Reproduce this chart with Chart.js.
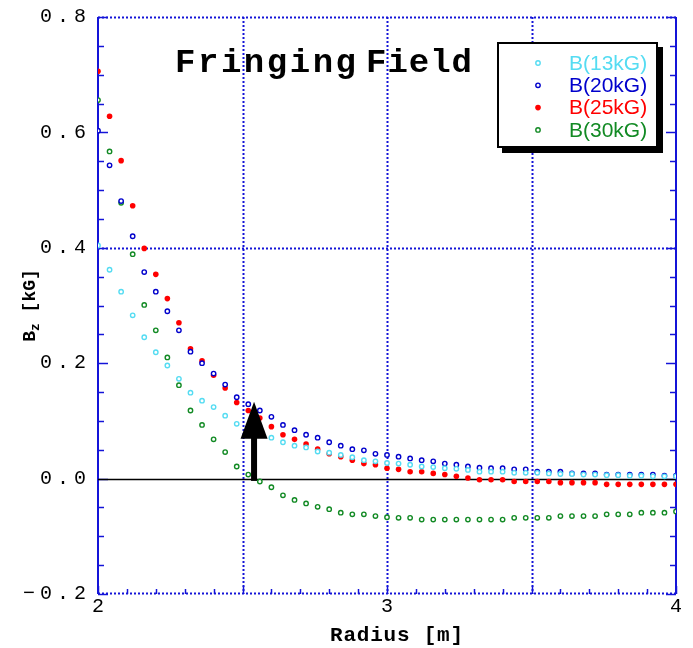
<!DOCTYPE html>
<html><head><meta charset="utf-8">
<script src="https://cdn.jsdelivr.net/npm/chart.js@4/dist/chart.umd.min.js"></script>
<style>html,body{margin:0;padding:0;background:#fff;} canvas{display:block;}</style>
</head><body>
<canvas id="c" width="693" height="648"></canvas>
<script>
// ---- data ----
const radius = [2.00,2.04,2.08,2.12,2.16,2.20,2.24,2.28,2.32,2.36,2.40,2.44,2.48,2.52,2.56,2.60,2.64,2.68,2.72,2.76,2.80,2.84,2.88,2.92,2.96,3.00,3.04,3.08,3.12,3.16,3.20,3.24,3.28,3.32,3.36,3.40,3.44,3.48,3.52,3.56,3.60,3.64,3.68,3.72,3.76,3.80,3.84,3.88,3.92,3.96,4.00];
const b13 = [0.404,0.362,0.324,0.283,0.245,0.219,0.196,0.173,0.149,0.135,0.124,0.109,0.095,0.087,0.079,0.071,0.063,0.057,0.054,0.047,0.045,0.041,0.037,0.032,0.030,0.027,0.026,0.024,0.021,0.020,0.018,0.017,0.015,0.012,0.012,0.012,0.010,0.010,0.010,0.009,0.008,0.008,0.007,0.007,0.006,0.006,0.005,0.005,0.004,0.004,0.004];
const b20 = [0.603,0.543,0.481,0.420,0.358,0.324,0.290,0.257,0.220,0.200,0.182,0.163,0.141,0.129,0.118,0.107,0.093,0.084,0.076,0.071,0.063,0.057,0.051,0.049,0.043,0.041,0.038,0.035,0.032,0.030,0.026,0.024,0.021,0.019,0.018,0.018,0.016,0.016,0.012,0.012,0.012,0.009,0.009,0.009,0.007,0.007,0.007,0.007,0.007,0.005,0.005];
const b25 = [0.706,0.628,0.551,0.473,0.399,0.354,0.312,0.270,0.225,0.204,0.179,0.157,0.132,0.118,0.105,0.090,0.076,0.068,0.060,0.051,0.043,0.038,0.032,0.026,0.024,0.018,0.016,0.012,0.012,0.009,0.007,0.004,0.001,-0.002,-0.002,-0.002,-0.005,-0.005,-0.005,-0.005,-0.007,-0.007,-0.007,-0.007,-0.010,-0.010,-0.010,-0.010,-0.010,-0.010,-0.010];
const b30 = [0.656,0.567,0.478,0.389,0.301,0.257,0.210,0.162,0.118,0.093,0.068,0.046,0.021,0.007,-0.005,-0.015,-0.029,-0.037,-0.043,-0.049,-0.053,-0.059,-0.062,-0.062,-0.065,-0.067,-0.068,-0.068,-0.071,-0.071,-0.071,-0.071,-0.071,-0.071,-0.071,-0.071,-0.068,-0.068,-0.068,-0.068,-0.065,-0.065,-0.065,-0.065,-0.062,-0.062,-0.062,-0.059,-0.059,-0.059,-0.057];
const seriesNames = ['B(13kG)','B(20kG)','B(25kG)','B(30kG)'];
const xTicks = [2, 3, 4];
const xTickLabels = ['2', '3', '4'];
const yTicks = [0.8, 0.6, 0.4, 0.2, 0.0, -0.2];
const yTickLabels = ['0.8', '0.6', '0.4', '0.2', '0.0', '\u22120.2'];
const xGridValues = [2.5, 3.0, 3.5];
const yGridValues = [0.4];
const arrowX = 2.54, arrowFrom = -0.004, arrowTo = 0.133;
const chartTitle = ['Fringing', 'Field'];
const xTitle = 'Radius [m]';

// ---- styles ----
const colCyan = '#55dcf2', colBlue = '#0000cc', colRed = '#ff0000', colGreen = '#128a24';
const axisBlue = '#1414d8';
const mono = '"Liberation Mono", "DejaVu Sans Mono", monospace';
const sans = '"Liberation Sans", Arial, sans-serif';

function pts(arr) { return radius.map((r, i) => ({x: r, y: arr[i]})); }
function openSet(label, arr, col) {
  return {label, data: pts(arr), borderColor: col, backgroundColor: '#ffffff',
    pointRadius: 2.2, pointBorderWidth: 1.4, pointHoverRadius: 2.2, showLine: false};
}

// draw text spread to a given width; x is the left edge
function fitText(ctx, text, x, y, width) {
  ctx.letterSpacing = '0px';
  const w = ctx.measureText(text).width;
  const sp = text.length > 1 ? (width - w) / (text.length - 1) : 0;
  ctx.letterSpacing = sp.toFixed(2) + 'px';
  ctx.textAlign = 'left';
  ctx.fillText(text, x, y);
  ctx.letterSpacing = '0px';
}

const decor = {
  id: 'decor',
  beforeDatasetsDraw(chart) {
    const {ctx, chartArea: a, scales: {x, y}} = chart;
    ctx.save();
    // grid
    ctx.strokeStyle = axisBlue; ctx.lineWidth = 2; ctx.setLineDash([2, 2]);
    xGridValues.forEach(v => { const px = Math.round(x.getPixelForValue(v)) + 0.5;
      ctx.beginPath(); ctx.moveTo(px, a.top); ctx.lineTo(px, a.bottom); ctx.stroke(); });
    yGridValues.forEach(v => { const py = Math.round(y.getPixelForValue(v)) + 0.5;
      ctx.beginPath(); ctx.moveTo(a.left, py); ctx.lineTo(a.right, py); ctx.stroke(); });
    // top & bottom dotted frame
    ctx.beginPath(); ctx.moveTo(a.left, a.top + 0.5); ctx.lineTo(a.right, a.top + 0.5); ctx.stroke();
    ctx.beginPath(); ctx.moveTo(a.left, a.bottom - 0.5); ctx.lineTo(a.right, a.bottom - 0.5); ctx.stroke();
    ctx.setLineDash([]);
    // left & right solid frame
    ctx.beginPath(); ctx.moveTo(a.left, a.top); ctx.lineTo(a.left, a.bottom); ctx.stroke();
    ctx.beginPath(); ctx.moveTo(a.right, a.top); ctx.lineTo(a.right, a.bottom); ctx.stroke();
    // ticks
    ctx.lineWidth = 1.5;
    for (let k = 0; k <= 20; k++) {
      const v = -0.2 + k * 0.05; const py = Math.round(y.getPixelForValue(v)) + 0.5;
      const len = (k % 4 === 0) ? 10 : 6;
      ctx.beginPath(); ctx.moveTo(a.left, py); ctx.lineTo(a.left + len, py); ctx.stroke();
      ctx.beginPath(); ctx.moveTo(a.right, py); ctx.lineTo(a.right - len, py); ctx.stroke();
    }
    for (let k = 0; k <= 20; k++) {
      const v = 2 + k * 0.1; const px = Math.round(x.getPixelForValue(v)) + 0.5;
      const len = (k % 5 === 0) ? 8 : 5;
      ctx.beginPath(); ctx.moveTo(px, a.bottom); ctx.lineTo(px, a.bottom - len); ctx.stroke();
    }
    // zero line
    ctx.strokeStyle = '#000'; ctx.lineWidth = 1.3;
    const z = Math.round(y.getPixelForValue(0)) + 0.5;
    ctx.beginPath(); ctx.moveTo(a.left, z); ctx.lineTo(a.right, z); ctx.stroke();
    // y tick labels (right edge at a.left - 12)
    ctx.fillStyle = '#000';
    ctx.font = '20px ' + mono; ctx.textBaseline = 'middle';
    yTicks.forEach((v, i) => {
      const t = yTickLabels[i];
      ctx.letterSpacing = '0px';
      const w = ctx.measureText(t).width + 5 * (t.length - 1);
      fitText(ctx, t, a.left - 12 - w, y.getPixelForValue(v), w);
    });
    ctx.letterSpacing = '0px';
    ctx.font = '20px ' + mono; ctx.textAlign = 'center'; ctx.textBaseline = 'top';
    xTicks.forEach((v, i) => ctx.fillText(xTickLabels[i], x.getPixelForValue(v), a.bottom + 3));
    // axis titles
    ctx.font = 'bold 21px ' + mono; ctx.textBaseline = 'alphabetic';
    fitText(ctx, xTitle, 330, a.bottom + 47, 133);
    ctx.save();
    ctx.translate(35, (a.top + a.bottom) / 2);
    ctx.rotate(-Math.PI / 2);
    ctx.textAlign = 'left';
    const p1 = 'B', p3 = ' [kG]';
    ctx.font = 'bold 18px ' + mono; const w1 = ctx.measureText(p1).width;
    ctx.font = 'bold 13px ' + mono; const w2 = ctx.measureText('z').width;
    ctx.font = 'bold 18px ' + mono; const w3 = ctx.measureText(p3).width;
    let sx = -(w1 + w2 + w3) / 2;
    ctx.fillText(p1, sx, 0); sx += w1;
    ctx.font = 'bold 13px ' + mono; ctx.fillText('z', sx, 4); sx += w2;
    ctx.font = 'bold 18px ' + mono; ctx.fillText(p3, sx, 0);
    ctx.restore();
    ctx.restore();
  },
  afterDatasetsDraw(chart) {
    const {ctx, scales: {x, y}} = chart;
    ctx.save();
    // title
    ctx.fillStyle = '#000'; ctx.font = 'bold 34px ' + mono; ctx.textBaseline = 'alphabetic';
    fitText(ctx, chartTitle[0], 175, 72, 181);
    fitText(ctx, chartTitle[1], 366, 72, 106);
    // arrow
    const ax = x.getPixelForValue(arrowX), y0 = y.getPixelForValue(arrowFrom), y1 = y.getPixelForValue(arrowTo);
    const headLen = 37, headHalf = 13.5;
    ctx.fillStyle = '#000';
    ctx.fillRect(ax - 3, y1 + headLen - 2, 6, y0 - (y1 + headLen - 2));
    ctx.beginPath(); ctx.moveTo(ax, y1); ctx.lineTo(ax - headHalf, y1 + headLen); ctx.lineTo(ax + headHalf, y1 + headLen); ctx.closePath(); ctx.fill();
    // legend
    const lx = 497, ly = 42, lw = 161, lh = 106, sh = 5;
    ctx.fillStyle = '#000'; ctx.fillRect(lx + sh, ly + sh, lw, lh);
    ctx.fillStyle = '#fff'; ctx.fillRect(lx, ly, lw, lh);
    ctx.strokeStyle = '#000'; ctx.lineWidth = 2; ctx.strokeRect(lx + 1, ly + 1, lw - 2, lh - 2);
    const ds = chart.data.datasets;
    const textCols = [colCyan, colBlue, colRed, colGreen];
    ctx.font = '21px ' + sans; ctx.textBaseline = 'middle'; ctx.textAlign = 'left';
    seriesNames.forEach((n, i) => {
      const ry = 63 + i * 22.3;
      const d = ds[i];
      ctx.beginPath(); ctx.arc(538, ry, d.pointRadius, 0, Math.PI * 2);
      if (d.backgroundColor === '#ffffff') { ctx.fillStyle = '#fff'; ctx.fill(); ctx.lineWidth = d.pointBorderWidth; ctx.strokeStyle = d.borderColor; ctx.stroke(); }
      else { ctx.fillStyle = d.backgroundColor; ctx.fill(); }
      ctx.fillStyle = textCols[i];
      ctx.fillText(n, 569, ry + 1);
    });
    ctx.restore();
  }
};

new Chart(document.getElementById('c'), {
  type: 'scatter',
  data: {
    datasets: [
      openSet(seriesNames[0], b13, colCyan),
      openSet(seriesNames[1], b20, colBlue),
      {label: seriesNames[2], data: pts(b25), borderColor: colRed, backgroundColor: colRed,
        pointRadius: 2.8, pointBorderWidth: 0, pointHoverRadius: 2.8, showLine: false},
      openSet(seriesNames[3], b30, colGreen)
    ]
  },
  options: {
    responsive: false, animation: false, events: [],
    layout: {padding: {left: 0, right: 17, top: 17, bottom: 0}},
    plugins: {legend: {display: false}, tooltip: {enabled: false}, title: {display: false}},
    scales: {
      x: {type: 'linear', min: 2, max: 4, ticks: {display: false}, grid: {display: false}, border: {display: false},
        afterFit(s) { s.height = 54; }},
      y: {type: 'linear', min: -0.2, max: 0.8, ticks: {display: false}, grid: {display: false}, border: {display: false},
        afterFit(s) { s.width = 98; }}
    }
  },
  plugins: [decor]
});
</script>
</body></html>
